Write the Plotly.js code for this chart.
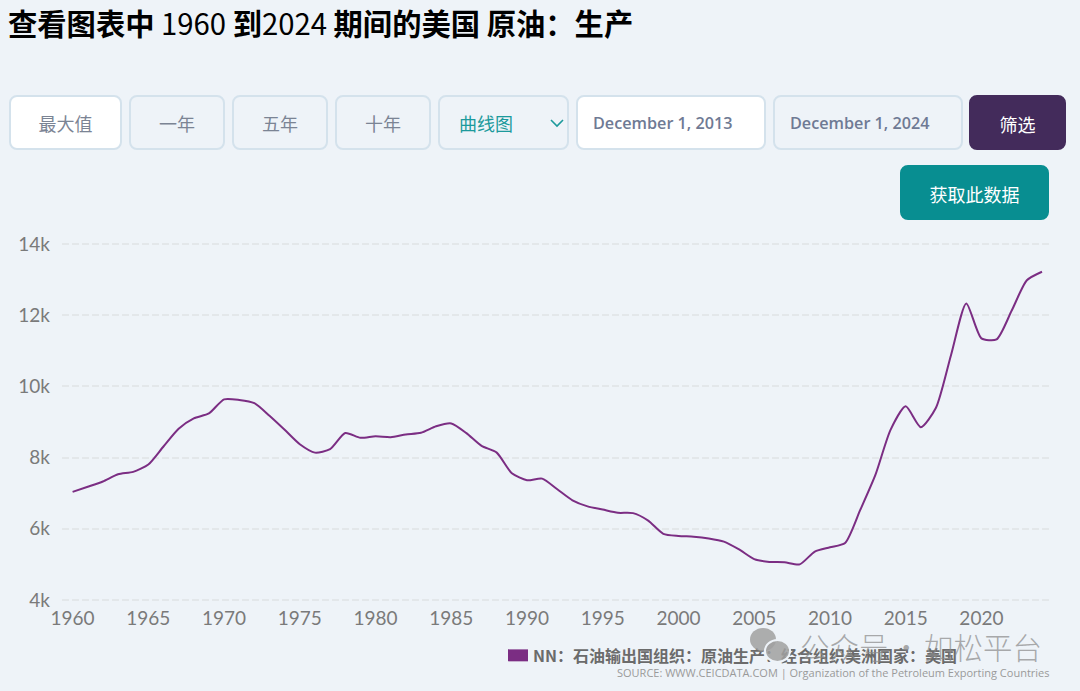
<!DOCTYPE html>
<html>
<head>
<meta charset="utf-8">
<script src="https://cdn.plot.ly/plotly-3.0.1.min.js"></script>
<style>
html,body{margin:0;padding:0;background:#eef3f8;width:1080px;height:691px;overflow:hidden}
#chart{position:absolute;left:0;top:0;width:1080px;height:691px}
.b{position:absolute;box-sizing:border-box;height:55px;top:95px;border:2px solid #d4e2ec;border-radius:8px;
   font:18px "Noto Sans CJK SC",sans-serif;color:#7b8494;display:flex;align-items:center;justify-content:center}
.w{background:#fff}
.d{justify-content:flex-start;padding-left:15px;font:600 16.2px "Open Sans",sans-serif;color:#6f7a94}
.wm{position:absolute;left:800px;top:625px;font:300 29.5px "Noto Sans CJK SC",sans-serif;color:rgba(140,140,140,.72);white-space:nowrap;word-spacing:-3.5px}
.c{position:absolute;border-radius:50%;background:rgba(160,160,160,.85);box-sizing:border-box}
</style>
</head>
<body>
<div id="chart"></div>
<div class="b w" style="left:9px;width:113px">最大值</div>
<div class="b" style="left:129px;width:96px">一年</div>
<div class="b" style="left:232px;width:96px">五年</div>
<div class="b" style="left:335px;width:96px">十年</div>
<div class="b" style="left:438px;width:131px;justify-content:flex-start;padding-left:19px;color:#1c9a9c">曲线图
  <svg style="position:absolute;left:110px;top:21px" width="14" height="10"><path d="M1 2 L7 8 L13 2" fill="none" stroke="#1c9a9c" stroke-width="1.6"/></svg></div>
<div class="b w d" style="left:576px;width:190px">December 1, 2013</div>
<div class="b d" style="left:773px;width:190px">December 1, 2024</div>
<div class="b" style="left:969px;width:97px;background:#432b5b;border-color:#432b5b;color:#fff;padding-top:2px">筛选</div>
<div class="b" style="left:900px;top:165px;width:149px;background:#088e91;border-color:#088e91;color:#fff;padding-top:2px">获取此数据</div>
<div class="c" style="left:750px;top:628px;width:26px;height:23px"></div>
<div class="c" style="left:764px;top:639px;width:27px;height:24px;border:2px solid #eef3f8"></div>
<div class="wm">公众号 · 如松平台</div>
<script>
const years = [1960,1961,1962,1963,1964,1965,1966,1967,1968,1969,1970,1971,1972,1973,1974,1975,1976,1977,1978,1979,1980,1981,1982,1983,1984,1985,1986,1987,1988,1989,1990,1991,1992,1993,1994,1995,1996,1997,1998,1999,2000,2001,2002,2003,2004,2005,2006,2007,2008,2009,2010,2011,2012,2013,2014,2015,2016,2017,2018,2019,2020,2021,2022,2023,2024];
const production = [7037,7180,7330,7530,7600,7806,8312,8810,9100,9240,9637,9620,9530,9175,8780,8375,8140,8237,8690,8556,8600,8575,8650,8697,8880,8960,8687,8330,8140,7560,7365,7410,7110,6800,6630,6540,6450,6440,6230,5860,5800,5780,5730,5640,5420,5150,5070,5060,5000,5360,5480,5600,6530,7514,8779,9440,8855,9400,10890,12330,11350,11320,12130,12980,13220];
const xTicks = [1960,1965,1970,1975,1980,1985,1990,1995,2000,2005,2010,2015,2020];
const yTicks = [4000,6000,8000,10000,12000,14000];
const yTickLabels = ['4k','6k','8k','10k','12k','14k'];
const titleText = '<b>查看图表中</b> 1960 <b>到</b>2024 <b>期间的美国 原油：生产</b>';
const seriesName = 'NN：石油输出国组织：原油生产：经合组织美洲国家：美国';
const sourceText = 'SOURCE: WWW.CEICDATA.COM | Organization of the Petroleum Exporting Countries';

const W = 1080, H = 691;
Plotly.newPlot('chart', [{
  x: years, y: production, type: 'scatter', mode: 'lines', name: seriesName,
  line: {color: '#7b2d83', width: 2, shape: 'spline', smoothing: 0.65},
  showlegend: false
}], {
  width: W, height: H,
  paper_bgcolor: '#eef3f8', plot_bgcolor: '#eef3f8',
  margin: {l: 62, r: 28, t: 240.5, b: 87.5},
  title: {text: titleText, x: 8/W, xref: 'container', xanchor: 'left', y: 1-25/H, yref: 'container', yanchor: 'middle',
          font: {family: '"Noto Sans CJK SC", sans-serif', size: 29.3, color: '#000'}},
  xaxis: {range: [1959.3, 2024.66], tickmode: 'array', tickvals: xTicks, ticktext: xTicks.map(String),
          showgrid: false, zeroline: false, showline: false, ticks: '', ticklen: 0, ticklabelstandoff: 2,
          tickfont: {family: 'Lato, sans-serif', size: 19, color: '#7a7a7a'}},
  yaxis: {range: [3916, 14084], tickmode: 'array', tickvals: yTicks, ticktext: yTickLabels,
          showgrid: true, gridcolor: '#e3e7ea', griddash: '7px,3px', gridwidth: 1.5,
          zeroline: false, showline: false, ticks: '', ticklen: 0, ticklabelstandoff: 11,
          tickfont: {family: 'Lato, sans-serif', size: 19, color: '#7a7a7a'}},
  shapes: [{type: 'rect', xref: 'paper', yref: 'paper', x0: (508-62)/990, x1: (528-62)/990, y0: (603.5-662)/363, y1: (603.5-650)/363,
            fillcolor: '#7b2d83', line: {width: 0}}],
  annotations: [
    {text: '<b>'+seriesName+'</b>', xref: 'paper', yref: 'paper', x: (531-62)/990, y: (603.5-656)/363, xanchor: 'left', yanchor: 'middle', showarrow: false,
     font: {family: '"Noto Sans CJK SC", sans-serif', size: 16, color: '#6b6b6b'}},
    {text: sourceText, xref: 'paper', yref: 'paper', x: 1, y: (603.5-673)/363, xanchor: 'right', yanchor: 'middle', showarrow: false,
     font: {family: '"Open Sans", sans-serif', size: 11, color: '#9a9a9a'}}
  ]
}, {displayModeBar: false, responsive: false});
</script>
</body>
</html>
